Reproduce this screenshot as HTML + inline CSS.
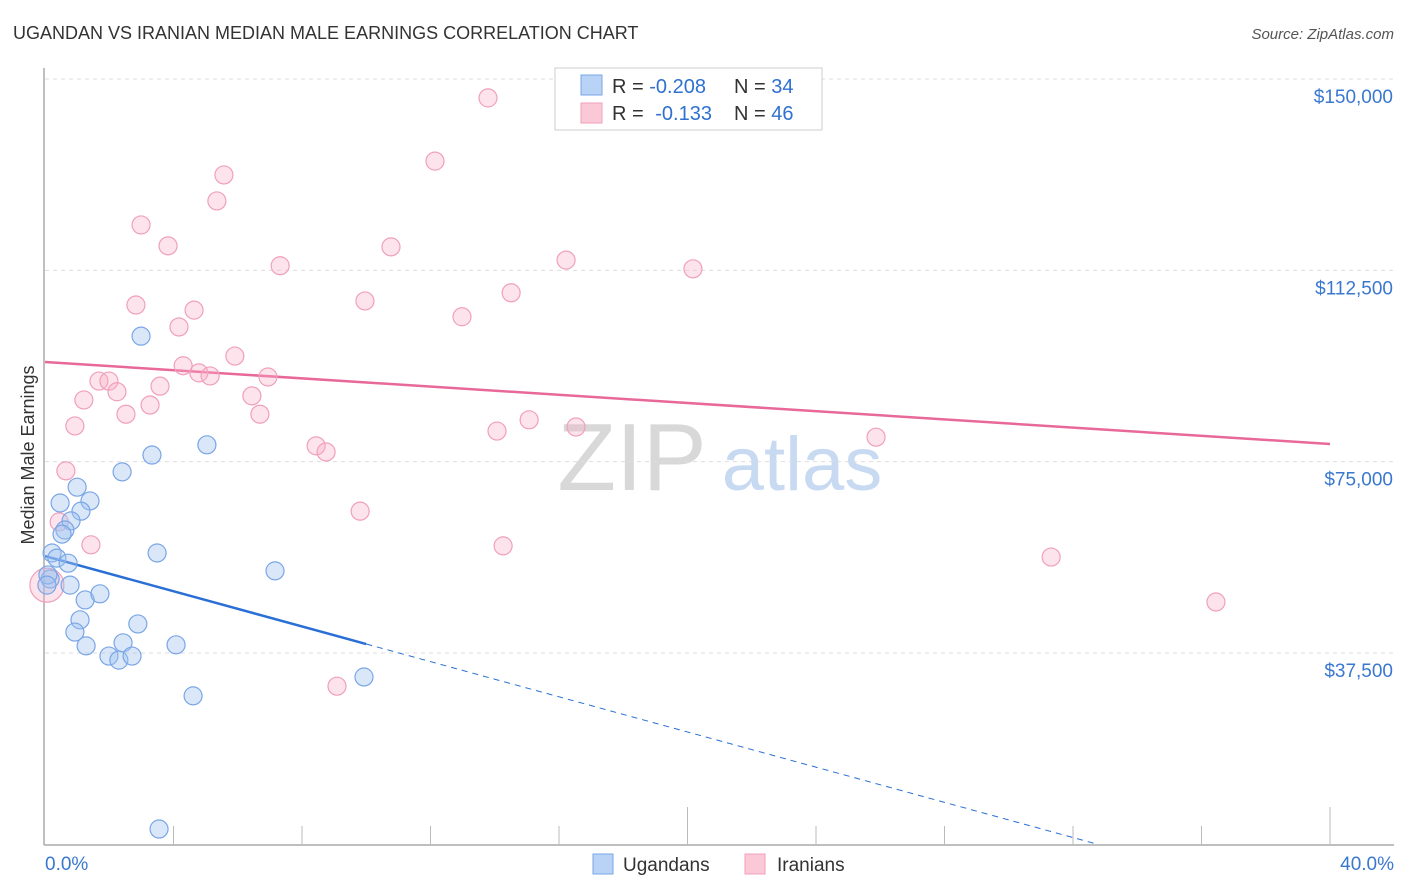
<!DOCTYPE html>
<html><head><meta charset="utf-8">
<style>
html,body{margin:0;padding:0;background:#fff;width:1406px;height:892px;overflow:hidden;font-family:"Liberation Sans",sans-serif;}
svg text{font-family:"Liberation Sans",sans-serif;}
</style></head>
<body>
<svg id="chart" width="1406" height="892" viewBox="0 0 1406 892" xmlns="http://www.w3.org/2000/svg">
<text x="13" y="39" font-size="18" fill="#333">UGANDAN VS IRANIAN MEDIAN MALE EARNINGS CORRELATION CHART</text>
<text x="1394" y="39" font-size="15" fill="#555" font-style="italic" text-anchor="end">Source: ZipAtlas.com</text>
<text transform="translate(34,455) rotate(-90)" font-size="18" fill="#333" text-anchor="middle">Median Male Earnings</text>
<g>
<text x="632" y="490" font-size="96" fill="#d8d8d8" text-anchor="middle" font-family="Liberation Serif, serif">ZIP</text>
<text x="802" y="490" font-size="76" fill="#c8daf2" text-anchor="middle">atlas</text>
</g>
<g id="grid"></g>
<g id="axes"></g>
<g id="trends"></g>
<g id="points"></g>
<g>
<rect x="555" y="68" width="267" height="62" fill="#fff" stroke="#ccc"/>
<rect x="581" y="75" width="21" height="20" fill="#b8d3f5" stroke="#7aa6e6"/>
<rect x="581" y="103" width="21" height="20" fill="#fbc8d8" stroke="#f0a0b8"/>
<text x="612" y="93" font-size="20" fill="#333">R = <tspan fill="#3070d0">-0.208</tspan></text>
<text x="734" y="93" font-size="20" fill="#333">N = <tspan fill="#3070d0">34</tspan></text>
<text x="612" y="120" font-size="20" fill="#333">R =  <tspan fill="#3070d0" dx="6">-0.133</tspan></text>
<text x="734" y="120" font-size="20" fill="#333">N = <tspan fill="#3070d0">46</tspan></text>
</g>
<g>
<rect x="593" y="854" width="20" height="20" fill="#b8d3f5" stroke="#7aa6e6"/>
<text x="623" y="871" font-size="19" fill="#333">Ugandans</text>
<rect x="745" y="854" width="20" height="20" fill="#fbc8d8" stroke="#f0a0b8"/>
<text x="777" y="871" font-size="19" fill="#333">Iranians</text>
</g>
</svg>
<script>
const yTicks=[150000,112500,75000,37500];
const yTickLabels=["$150,000","$112,500","$75,000","$37,500"];
const xTickLabels=["0.0%","40.0%"];
const ugX=[2.99,3.33,5.04,2.40,1.00,0.47,1.40,1.12,0.81,0.62,0.53,3.49,0.22,0.37,0.72,7.16,0.16,0.78,1.25,1.71,1.09,2.89,0.93,1.28,2.43,4.08,1.99,2.30,2.71,4.61,9.93,3.55,0.09,0.06];
const ugY=[99600,76300,78300,73000,70000,66900,67300,65300,63400,61600,60800,57100,57100,56100,55100,53600,52000,50800,47900,49100,44000,43200,41600,38900,39500,39100,36900,36100,36900,29100,32800,3000,52800,50800];
const irX=[13.79,12.14,5.57,5.35,2.99,3.83,10.77,16.22,7.32,20.17,14.51,2.83,9.96,4.64,12.98,4.17,5.91,4.30,4.79,5.14,6.94,1.68,1.99,3.58,2.24,6.44,1.21,3.27,2.52,6.69,15.07,0.93,16.53,14.07,25.87,8.44,8.75,0.65,9.81,0.44,1.43,14.26,31.32,36.45,9.09,0.06];
const irY=[146300,133900,131200,126100,121400,117300,117100,114500,113400,112800,108100,105700,106500,104700,103400,101400,95700,93800,92400,91800,91600,90800,90800,89800,88700,87900,87100,86100,84300,84300,83200,82000,81800,81000,79800,78100,76900,73200,65300,63200,58700,58500,56300,47500,31000,50800];
const ugTrend=[56500,39260];   // values at 0% and 10%
const irTrend=[94540,78460];   // values at 0% and 40%

const X0=45,X1=1330,YA=653,YB=79;
const xs=p=>X0+(X1-X0)*p/40;
const ys=v=>YA-(v-37500)*(YA-YB)/112500;
const NS="http://www.w3.org/2000/svg";
function mk(tag,attrs,parent){const e=document.createElementNS(NS,tag);for(const k in attrs)e.setAttribute(k,attrs[k]);parent.appendChild(e);return e;}
const grid=document.getElementById('grid'),axes=document.getElementById('axes'),trends=document.getElementById('trends'),pts=document.getElementById('points');
yTicks.forEach((v,i)=>{
  const l=mk('line',{x1:45,x2:1394,y1:ys(v),y2:ys(v),stroke:'#ddd','stroke-dasharray':'4,4'},grid);
  
  
  const t=mk('text',{x:1393,y:ys(v)+24,'font-size':19,fill:'#3a78d0','text-anchor':'end'},axes);
  t.textContent=yTickLabels[i];
  
  
});
const ax=mk('line',{x1:44,x2:44,y1:68,y2:845,stroke:'#aaa','stroke-width':1.5},axes);


const bx=mk('line',{x1:44,x2:1394,y1:845,y2:845,stroke:'#aaa','stroke-width':1.5},axes);


for(let i=1;i<=10;i++){
  const x=xs(i*4);const tall=(i==5||i==10);
  const tk=mk('line',{x1:x,x2:x,y1:tall?807:826,y2:845,stroke:'#bbb'},axes);
  
  
}
[[0,'start',45],[40,'end',1394]].forEach((d,i)=>{
  const t=mk('text',{x:d[2],y:870,'font-size':19,fill:'#3a78d0','text-anchor':d[1]},axes);
  t.textContent=xTickLabels[i];
  
  
});
const slopeU=(ugTrend[1]-ugTrend[0])/10;
const ts=mk('line',{x1:xs(0),y1:ys(ugTrend[0]),x2:xs(10),y2:ys(ugTrend[1]),stroke:'#2a6fd6','stroke-width':2.5},trends);


const xe=-ugTrend[0]/slopeU;
const td=mk('line',{x1:xs(10),y1:ys(ugTrend[1]),x2:xs(xe),y2:ys(0),stroke:'#2a6fd6','stroke-width':1,'stroke-dasharray':'6,5'},trends);


const tp=mk('line',{x1:xs(0),y1:ys(irTrend[0]),x2:xs(40),y2:ys(irTrend[1]),stroke:'#e8689a','stroke-width':2.5},trends);


irX.forEach((x,i)=>{
  const big=(i==irX.length-1);
  const c=mk('circle',{cx:xs(x),cy:ys(irY[i]),r:big?17:9,fill:'rgba(248,176,198,0.35)',stroke:'#f0a0ba','stroke-width':1.2},pts);
  
  
});
ugX.forEach((x,i)=>{
  const c=mk('circle',{cx:xs(x),cy:ys(ugY[i]),r:9,fill:'rgba(160,196,240,0.4)',stroke:'#7aa6e6','stroke-width':1.2},pts);
  
  
});
</script>
</body></html>
